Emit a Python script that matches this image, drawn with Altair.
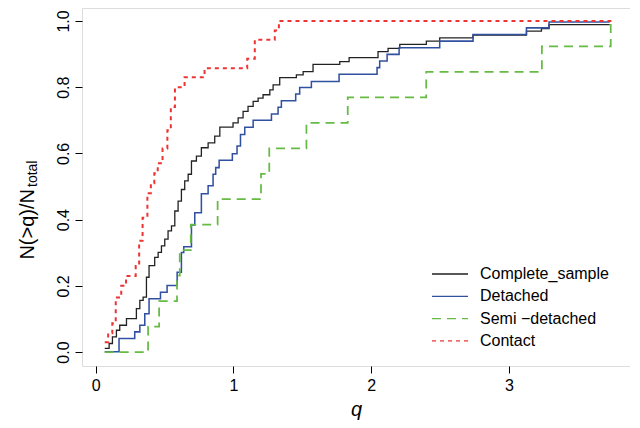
import altair as alt
import pandas as pd

def zq1(zx): return round((90 + zx/3 - 96)/137.7, 3)
def zq2(zx): return round((300 + zx/3 - 96)/137.7, 3)
def zy(v): return round((352 - v/3)/333, 3)

black_z1 = [(45,1045),(58,1030),(68,1010),(80,990),(90,975),(110,955),(140,925),(150,900),(160,890),(170,830),(178,795),(195,770),(205,755),(215,735),(225,715),(235,690),(245,675),(255,630),(265,600),(275,565),(285,540),(295,520),(305,480),(320,465),(335,440),(355,425),(375,405),(390,378),(430,365),(445,350),(460,330),(475,315),(490,300),(505,290),(520,280),(540,265),(550,250),(570,228),(620,220),(640,210)]
black_z2 = [(40,188),(120,180),(148,168),(235,150),(265,140),(300,128),(380,118),(420,108),(520,100),(680,88),(725,80),(748,68),(930,68)]
blue_z1 = [(45,1055),(88,1015),(135,995),(150,975),(165,940),(178,895),(212,875),(232,855),(262,815),(275,755),(282,738),(305,672),(315,635),(335,578),(355,555),(370,520),(378,500),(388,478),(428,458),(442,435),(452,400),(465,378),(490,357),(545,338),(565,318),(575,298),(618,278)]
blue_z2 = [(0,258),(35,240),(118,218),(232,198),(240,178),(262,158),(298,138),(420,118),(520,98),(680,78),(748,60),(930,60)]

complete_q = [zq1(a) for a, b in black_z1] + [zq2(a) for a, b in black_z2]
complete_y = [zy(b) for a, b in black_z1] + [zy(b) for a, b in black_z2]
detached_q = [zq1(a) for a, b in blue_z1] + [zq2(a) for a, b in blue_z2]
detached_y = [zy(b) for a, b in blue_z1] + [zy(b) for a, b in blue_z2]

semi_q = [0.065, 0.38, 0.46, 0.59, 0.61, 0.69, 0.885, 1.20, 1.26, 1.53, 1.83, 2.40, 3.24, 3.74, 3.745]
semi_y = [0.0, 0.077, 0.154, 0.231, 0.308, 0.385, 0.462, 0.538, 0.615, 0.692, 0.769, 0.846, 0.923, 1.0, 1.0]

contact_q = [0.065, 0.09, 0.12, 0.145, 0.185, 0.22, 0.29, 0.315, 0.34, 0.375, 0.4, 0.425, 0.45, 0.485, 0.52, 0.545, 0.575, 0.645, 0.79, 1.10, 1.155, 1.30, 1.33, 3.745]
contact_y = [0.03, 0.057, 0.087, 0.165, 0.2, 0.23, 0.26, 0.336, 0.406, 0.48, 0.51, 0.54, 0.57, 0.615, 0.67, 0.74, 0.8, 0.83, 0.857, 0.886, 0.943, 0.971, 1.0, 1.0]

names = ["Complete_sample", "Detached", "Semi \u2212detached", "Contact"]
colors = ["#222222", "#3050a0", "#66bb44", "#ee3333"]
dashes = [[1, 0], [1, 0], [9, 6], [4, 4]]
widths = [1.3, 2.0, 1.5, 1.5]
series = [(complete_q, complete_y), (detached_q, detached_y), (semi_q, semi_y), (contact_q, contact_y)]
rows = []
for n, (qs, ys) in zip(names, series):
    for i, (q, y) in enumerate(zip(qs, ys)):
        rows.append({"q": q, "y": y, "s": n, "o": i})
df = pd.DataFrame(rows)

xs = alt.Scale(domain=[-0.1, 3.88], nice=False, zero=False)
ys_ = alt.Scale(domain=[-0.042, 1.039], nice=False, zero=False)

lines = alt.Chart(df).mark_line(interpolate="step-after").encode(
    x=alt.X("q:Q", scale=xs, title="q",
            axis=alt.Axis(values=[0, 1, 2, 3], grid=False, domain=False, tickColor="black",
                          tickSize=7, labelFontSize=16, labelColor="black", titleFontSize=20,
                          titleFontStyle="italic", titleFontWeight="normal", titleColor="black",
                          labelPadding=4, titlePadding=6)),
    y=alt.Y("y:Q", scale=ys_, title="",
            axis=alt.Axis(values=[0, 0.2, 0.4, 0.6, 0.8, 1.0], format=".1f", grid=False, domain=False,
                          tickColor="black", tickSize=7, labelFontSize=16, labelColor="black",
                          labelAngle=270, labelAlign="center", labelBaseline="bottom", labelPadding=4)),
    order="o:Q",
    color=alt.Color("s:N", scale=alt.Scale(domain=names, range=colors), legend=None),
    strokeDash=alt.StrokeDash("s:N", scale=alt.Scale(domain=names, range=dashes), legend=None),
    strokeWidth=alt.StrokeWidth("s:N", scale=alt.Scale(domain=names, range=widths), legend=None),
)

layers = [lines]
for i, n in enumerate(names):
    yy = 266 + 22.3 * i
    layers.append(alt.Chart(pd.DataFrame({"a": [0]})).mark_rule(
        color=colors[i], strokeDash=dashes[i], strokeWidth=1.3).encode(
        x=alt.value(350), x2=alt.value(386), y=alt.value(yy)))
    layers.append(alt.Chart(pd.DataFrame({"t": [n]})).mark_text(
        align="left", baseline="middle", fontSize=16, color="black").encode(
        text="t:N", x=alt.value(398), y=alt.value(yy)))

t1 = alt.Chart(pd.DataFrame({"t": ["N(>q)/N"]})).mark_text(
    angle=270, align="right", baseline="middle", fontSize=20, color="black").encode(
    text="t:N", x=alt.value(-54), y=alt.value(181))
t2 = alt.Chart(pd.DataFrame({"t": ["total"]})).mark_text(
    angle=270, align="left", baseline="middle", fontSize=14, color="black").encode(
    text="t:N", x=alt.value(-49), y=alt.value(179))
layers += [t1, t2]

chart = alt.layer(*layers).properties(
    width=548, height=358, autosize=alt.AutoSizeParams(type="none"),
    padding={"left": 74, "top": 0, "right": 0, "bottom": 54}
).configure_view(stroke="black", strokeWidth=1.2).configure(font="Liberation Sans")

chart.save("out.html", embed_options={"renderer": "svg", "actions": False})
